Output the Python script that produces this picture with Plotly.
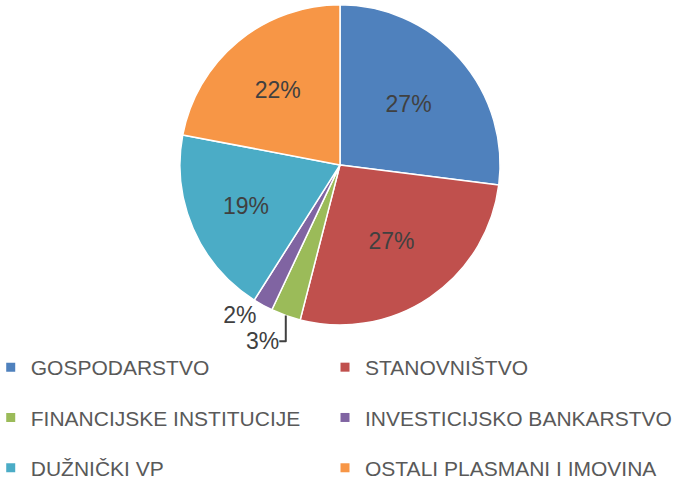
import plotly.graph_objects as go

categories = ["GOSPODARSTVO", "STANOVNIŠTVO", "FINANCIJSKE INSTITUCIJE",
              "INVESTICIJSKO BANKARSTVO", "DUŽNIČKI VP", "OSTALI PLASMANI I IMOVINA"]
values = [27, 27, 3, 2, 19, 22]
colors = ["#4F81BD", "#C0504D", "#9BBB59", "#8064A2", "#4BACC6", "#F79646"]
text_positions = ["inside", "inside", "outside", "outside", "inside", "inside"]

FONT = "Liberation Sans, Arial, sans-serif"

fig = go.Figure(go.Pie(
    labels=categories,
    values=values,
    sort=False,
    direction="clockwise",
    rotation=0,
    marker=dict(colors=colors, line=dict(color="white", width=1.5)),
    texttemplate="%{percent:.0%}",
    textposition=text_positions,
    insidetextorientation="horizontal",
    textfont=dict(family=FONT, size=23, color="#404040"),
    domain=dict(x=[0.0, 1.0], y=[0.33, 0.99]),
    hovertemplate="%{label}: %{value}%<extra></extra>",
    showlegend=False,
))

# legend entries (two columns, as in the reference) built from the same lists
for i, (cat, col) in enumerate(zip(categories, colors)):
    fig.add_trace(go.Scatter(
        x=[None], y=[None], mode="markers", name=cat,
        marker=dict(symbol="square", size=9, color=col),
        legend="legend" if i % 2 == 0 else "legend2",
        legendgroup=cat, showlegend=True, hoverinfo="skip",
    ))

legend_common = dict(
    orientation="v",
    xref="paper", yref="paper",
    yanchor="top", xanchor="left",
    y=0.2845,
    tracegroupgap=20,
    indentation=-12,
    bgcolor="rgba(0,0,0,0)",
    font=dict(family=FONT, size=21, color="#595959"),
    itemclick=False, itemdoubleclick=False,
)

fig.update_layout(
    width=680, height=485,
    margin=dict(l=0, r=0, t=0, b=0, autoexpand=False),
    paper_bgcolor="white",
    plot_bgcolor="white",
    showlegend=True,
    xaxis=dict(visible=False),
    yaxis=dict(visible=False),
    legend=dict(x=0.004, **legend_common),
    legend2=dict(x=0.4956, **legend_common),
)

fig.write_html("out.html", config={"displayModeBar": False},
               post_script="document.body.style.margin='0';")
